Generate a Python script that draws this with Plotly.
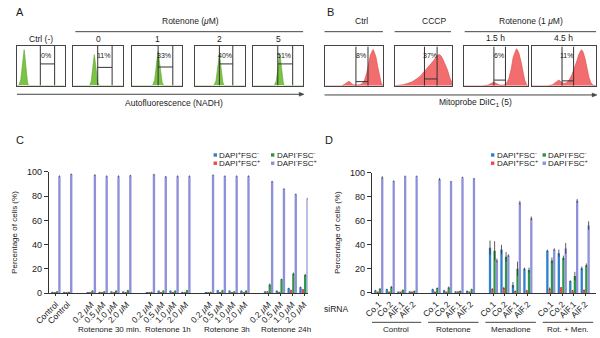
import plotly.graph_objects as go

W, H = 600, 338
def px(x): return x / W
def py(y): return 1 - y / H

FONT = "Liberation Sans, Arial, sans-serif"
TXT = "#1a1a1a"

# ---------------- Panel A data (relative x 0-100, height 0-100) ----------------
a_titles = ["Ctrl (-)", "0", "1", "2", "5"]
a_percent = ["0%", "11%", "33%", "40%", "51%"]
a_hist_x = [
    [0, 4, 8, 11, 13, 15, 16, 18, 20, 22, 24, 100],
    [0, 33, 36, 38, 40, 42, 43, 45, 47, 49, 52, 100],
    [0, 41, 45, 48, 50, 52, 53, 55, 57, 60, 63, 100],
    [0, 38, 42, 45, 47, 49, 50, 52, 54, 56, 59, 100],
    [0, 42, 46, 49, 51, 53, 54, 56, 58, 60, 62, 100],
]
a_hist_y = [
    [0, 0, 15, 50, 80, 93, 85, 55, 28, 10, 0, 0],
    [0, 0, 12, 35, 62, 80, 72, 45, 22, 8, 0, 0],
    [0, 0, 14, 40, 70, 88, 78, 50, 24, 8, 0, 0],
    [0, 0, 12, 38, 65, 80, 72, 45, 22, 8, 0, 0],
    [0, 0, 12, 38, 65, 82, 74, 46, 22, 8, 0, 0],
]
a_gate_left = [49, 49, 52, 49, 49]
a_gate_right = [79, 78, 81, 76, 79]
a_gate_level = [56, 47, 48, 56, 56]

# ---------------- Panel B data ----------------
b_titles = ["Ctrl", "CCCP", "1.5 h", "4.5 h"]
b_percent = ["8%", "37%", "6%", "11%"]
b_hist_x = [
    [0, 28, 33, 38, 41, 44, 48, 55, 60, 64, 68, 72, 75, 78, 81, 83, 85, 88, 91, 94, 97, 100],
    [0, 8, 15, 22, 30, 38, 45, 53, 58, 63, 68, 72, 75, 78, 81, 84, 88, 92, 96, 100],
    [0, 30, 38, 43, 47, 51, 56, 62, 66, 70, 74, 77, 80, 82, 84, 86, 89, 92, 95, 98, 100],
    [0, 25, 32, 37, 42, 46, 50, 54, 58, 62, 66, 70, 73, 76, 78, 80, 83, 86, 89, 92, 95, 100],
]
b_hist_y = [
    [0, 0, 4, 9, 12, 8, 3, 2, 3, 6, 15, 35, 60, 80, 90, 95, 88, 75, 50, 25, 8, 0],
    [0, 1, 3, 6, 10, 18, 26, 40, 48, 57, 66, 75, 80, 82, 78, 70, 58, 42, 22, 8],
    [0, 0, 2, 6, 10, 6, 2, 2, 5, 18, 45, 75, 92, 97, 93, 85, 65, 40, 15, 3, 0],
    [0, 0, 3, 9, 15, 10, 6, 8, 15, 28, 45, 65, 82, 92, 94, 88, 70, 45, 22, 8, 2, 0],
]
b_gate_left = [53, 52, 47, 47]
b_gate_right = [74, 74, 65, 65]
b_gate_level = [11, 18, 15, 13]

# ---------------- Panel C data ----------------
c_group_names = ["", "Rotenone 30 min.", "Rotenone 1h", "Rotenone 3h", "Rotenone 24h"]
c_group_labels = [["Control", "Control"]] + [["0.2 <i>μ</i>M", "0.5 <i>μ</i>M", "1.0 <i>μ</i>M", "2.0 <i>μ</i>M"]] * 4
c_blue = [1, 1, 0.5, 1, 1.5, 1.5, 0.5, 2, 2, 1, 0.5, 2.5, 2, 2, 1.5, 2, 4, 5]
c_red = [0.5, 0.5, 0.5, 0.5, 0.5, 0.5, 0.5, 0.5, 0.5, 1, 0.5, 0.5, 0.5, 1, 1.5, 1, 2.5, 3]
c_green = [1.5, 1, 2, 1.5, 2, 2.5, 1, 2, 2, 2.5, 1, 2.5, 1.5, 2, 7, 11.5, 16, 15]
c_purple = [96.5, 98, 97.5, 96.5, 96.5, 97, 97.8, 96, 96.5, 96.5, 97.3, 96.5, 96.5, 96.5, 92, 86, 81.5, 78]
c_blue_err = [0.2] * 14 + [0.3, 0.3, 0.5, 0.5]
c_red_err = [0.1] * 14 + [0.3, 0.3, 0.5, 0.5]
c_green_err = [0.3] * 14 + [1, 0.5, 1, 1]
c_purple_err = [0.6] * 18

# ---------------- Panel D data ----------------
d_group_names = ["Control", "Rotenone", "Menadione", "Rot. + Men."]
d_sample_labels = ["Co.1", "Co.2", "AIF.1", "AIF.2"]
d_blue = [2, 3, 0.5, 1, 3, 2, 1, 1.5, 37.5, 36, 6.5, 20, 35, 33, 10, 20.5]
d_red = [0.5, 0.3, 0.3, 0.3, 0.5, 0.5, 1, 0.5, 3, 4, 1.5, 2, 3.5, 4.5, 2, 2.5]
d_green = [3.5, 5, 2.5, 1.5, 4, 4.5, 1.5, 3, 35, 30, 20, 19, 27, 29, 14, 23]
d_purple = [96, 93, 97, 97, 94.5, 92.5, 96, 95, 27, 31, 75, 62, 36, 37, 76.5, 56]
d_blue_err = [0.5, 0.5, 0.2, 0.3, 0.5, 0.5, 0.3, 0.5, 6, 4, 2.5, 1, 1, 3, 0.5, 1.5]
d_red_err = [0.2] * 8 + [1, 1, 0.5, 0.5, 1, 0.5, 0.5, 0.5]
d_green_err = [0.5, 0.8, 0.5, 0.5, 0.5, 0.8, 0.5, 0.5, 8, 4, 6, 2, 2.5, 2, 3.5, 1.5]
d_purple_err = [1, 0.5, 0.5, 0.5, 1, 0.5, 0.5, 0.5, 1.5, 1, 1.5, 1.5, 1, 4.5, 1.5, 3.5]

series_names = ["DAPI<sup>+</sup>FSC<sup>-</sup>", "DAPI<sup>+</sup>FSC<sup>+</sup>",
                "DAPI<sup>-</sup>FSC<sup>-</sup>", "DAPI<sup>-</sup>FSC<sup>+</sup>"]
series_colors = ["#2f80cc", "#f04848", "#2e9642", "#8e90da"]

# ---------------- figure ----------------
fig = go.Figure()
layout = dict(
    width=W, height=H, margin=dict(l=0, r=0, t=0, b=0),
    paper_bgcolor="white", plot_bgcolor="white", showlegend=False,
    barmode="group", bargap=0.2, bargroupgap=0,
    font=dict(family=FONT, size=8, color=TXT),
)
shapes = []
annotations = []

def ann(text, x, y, size=8, xanchor="center", yanchor="middle", **kw):
    annotations.append(dict(text=text, x=px(x), y=py(y), xref="paper", yref="paper",
                            showarrow=False, xanchor=xanchor, yanchor=yanchor,
                            font=dict(size=size, family=FONT, color=TXT), **kw))

def pline(x0, y0, x1, y1, color="#444", width=1):
    shapes.append(dict(type="line", xref="paper", yref="paper", x0=px(x0), y0=py(y0),
                       x1=px(x1), y1=py(y1), line=dict(color=color, width=width)))

def hist_axis(idx, x0, x1, ytop, ybot):
    common = dict(showline=True, mirror=True, linecolor="#444", linewidth=1, showgrid=False,
                  zeroline=False, showticklabels=False, ticks="", fixedrange=True)
    layout[f"xaxis{idx}"] = dict(domain=[px(x0), px(x1)], range=[0, 100], anchor=f"y{idx}", **common)
    layout[f"yaxis{idx}"] = dict(domain=[py(ybot), py(ytop)], range=[0, 103], anchor=f"x{idx}", **common)

def gate(idx, gl, gr, gy):
    for (x0, y0, x1, y1) in [(gl, 0, gl, 103), (gr, 0, gr, 103), (gl, gy, gr, gy)]:
        shapes.append(dict(type="line", xref=f"x{idx}", yref=f"y{idx}", x0=x0, y0=y0, x1=x1, y1=y1,
                           line=dict(color="#333", width=1)))

# Panel A
a_boxes = [(2, 51), (60, 111), (120, 172), (185, 236), (245, 296)]
for i, (bx0, bx1) in enumerate(a_boxes):
    idx = 3 + i
    hist_axis(idx, bx0, bx1, 42, 83)
    fig.add_trace(go.Scatter(x=a_hist_x[i], y=a_hist_y[i], mode="lines", fill="tozeroy",
                             fillcolor="#7cc245", line=dict(color="#5aa52c", width=0.6),
                             xaxis=f"x{idx}", yaxis=f"y{idx}", hoverinfo="skip"))
    gate(idx, a_gate_left[i], a_gate_right[i], a_gate_level[i])
    gx = bx0 + (bx1 - bx0) * (a_gate_left[i] + a_gate_right[i]) / 200 - 1
    ann(a_percent[i], gx, 52.5, size=7)
    ann(a_titles[i], (bx0 + bx1) / 2, 35.5, size=8.5)
ann("A", 5, 7, size=11)
ann("Rotenone (<i>μ</i>M)", 180, 17, size=8.5)
pline(62, 27.5, 296, 27.5)
pline(2, 92, 293, 92)
shapes.append(dict(type="path", xref="paper", yref="paper",
                   path=f"M {px(292)} {py(90)} L {px(297)} {py(92)} L {px(292)} {py(94)} Z",
                   fillcolor="#444", line=dict(color="#444", width=0.5)))
ann("Autofluorescence (NADH)", 163, 100.5, size=8.5)

# Panel B
b_boxes = [(319, 378), (390, 449), (461, 527), (531, 597)]
for i, (bx0, bx1) in enumerate(b_boxes):
    idx = 8 + i
    hist_axis(idx, bx0, bx1, 42.7, 83.3)
    fig.add_trace(go.Scatter(x=b_hist_x[i], y=b_hist_y[i], mode="lines", fill="tozeroy",
                             fillcolor="#f26e6e", line=dict(color="#e04a4a", width=0.6),
                             xaxis=f"x{idx}", yaxis=f"y{idx}", hoverinfo="skip"))
    gate(idx, b_gate_left[i], b_gate_right[i], b_gate_level[i])
    gx = bx0 + (bx1 - bx0) * (b_gate_left[i] + b_gate_right[i]) / 200 - 1
    ann(b_percent[i], gx, 52.5, size=7)
ann("B", 324, 7, size=11)
ann(b_titles[0], 356, 17, size=8.5)
ann(b_titles[1], 430, 17, size=8.5)
ann("Rotenone (1 <i>μ</i>M)", 530, 17, size=8.5)
ann(b_titles[2], 494, 33.5, size=8.5)
ann(b_titles[3], 564, 33.5, size=8.5)
pline(318, 27.5, 378, 27.5)
pline(390, 27.5, 448, 27.5)
pline(462, 27.5, 597, 27.5)
pline(318, 92.7, 594, 92.7)
shapes.append(dict(type="path", xref="paper", yref="paper",
                   path=f"M {px(593)} {py(90.7)} L {px(598)} {py(92.7)} L {px(593)} {py(94.7)} Z",
                   fillcolor="#444", line=dict(color="#444", width=0.5)))
ann("Mitoprobe DiIC<sub>1</sub> (5)", 473, 100.5, size=8.5)

# ---------------- bar panels ----------------
def positions(groups):
    pos, cur, centers = [], 0, []
    for g in groups:
        p = list(range(cur, cur + len(g)))
        pos += p
        centers.append(sum(p) / len(p))
        cur += len(g) + 1
    return pos, centers

c_pos, c_centers = positions(c_group_labels)
c_ticktext = [t for g in c_group_labels for t in g]
d_pos, d_centers = positions([d_sample_labels] * 4)
d_ticktext = d_sample_labels * 4

c_series = [(c_blue, c_blue_err), (c_red, c_red_err), (c_green, c_green_err), (c_purple, c_purple_err)]
d_series = [(d_blue, d_blue_err), (d_red, d_red_err), (d_green, d_green_err), (d_purple, d_purple_err)]

for (vals, err), name, col in zip(c_series, series_names, series_colors):
    fig.add_trace(go.Bar(x=c_pos, y=vals, name=name, marker=dict(color=col, line=dict(width=0)),
                         error_y=dict(type="data", array=err, thickness=0.8, width=0, color="#333"),
                         xaxis="x", yaxis="y"))
for (vals, err), name, col in zip(d_series, series_names, series_colors):
    fig.add_trace(go.Bar(x=d_pos, y=vals, name=name, marker=dict(color=col, line=dict(width=0)),
                         error_y=dict(type="data", array=err, thickness=0.8, width=0, color="#333"),
                         xaxis="x2", yaxis="y2"))

yax = dict(range=[0, 100], tickvals=[0, 20, 40, 60, 80, 100], ticks="outside", ticklen=4,
           tickwidth=1, tickcolor="#333", showline=True, linecolor="#333", linewidth=1,
           showgrid=False, zeroline=False, tickfont=dict(size=9, family=FONT, color=TXT),
           title=dict(text="Percentage of cells (%)", font=dict(size=8, family=FONT, color=TXT), standoff=8))
xax = dict(ticks="outside", ticklen=2, tickwidth=1, tickcolor="#333", showline=True, linecolor="#333",
           linewidth=1, showgrid=False, zeroline=False, tickangle=-45,
           tickfont=dict(size=8.5, family=FONT, color=TXT))

layout["xaxis"] = dict(domain=[px(34.7), px(300.6)], range=[-0.6, 21.3], anchor="y",
                       tickvals=c_pos, ticktext=c_ticktext, **xax)
layout["yaxis"] = dict(domain=[py(297), py(172)], anchor="x", **yax)
layout["xaxis2"] = dict(domain=[px(366.7), px(597)], range=[-0.6, 18.95], anchor="y2",
                        tickvals=d_pos, ticktext=d_ticktext, **xax)
layout["yaxis2"] = dict(domain=[py(296.7), py(172.7)], anchor="x2", **yax)

# panel C/D labels
ann("C", 5, 139, size=11)
ann("D", 323, 139, size=11)
for name, cx in zip(c_group_names, c_centers):
    if name:
        annotations.append(dict(text=name, x=cx, y=py(334.5), xref="x", yref="paper", showarrow=False,
                                xanchor="center", yanchor="middle",
                                font=dict(size=8, family=FONT, color=TXT)))
for name, cx in zip(d_group_names, d_centers):
    annotations.append(dict(text=name, x=cx, y=py(334.5), xref="x2", yref="paper", showarrow=False,
                            xanchor="center", yanchor="middle",
                            font=dict(size=8, family=FONT, color=TXT)))
    shapes.append(dict(type="line", xref="x2", yref="paper", x0=cx - 2.2, x1=cx + 2.2,
                       y0=py(327), y1=py(327), line=dict(color="#444", width=1)))
ann("siRNA", 330, 313, size=8.5)

# legends
def legend(x_left, x_right, y1, y2):
    spots = [(x_left, y1), (x_left, y2), (x_right, y1), (x_right, y2)]
    for (sx, sy), name, col in zip(spots, series_names, series_colors):
        shapes.append(dict(type="rect", xref="paper", yref="paper", x0=px(sx), x1=px(sx + 3.5),
                           y0=py(sy + 1.8), y1=py(sy - 1.7), fillcolor=col, line=dict(width=0)))
        ann(name, sx + 4, sy, size=8, xanchor="left")

legend(204, 263, 154.5, 163)
legend(489, 542, 154.5, 163)

layout["shapes"] = shapes
layout["annotations"] = annotations
fig.update_layout(**layout)
fig.write_html("out.html", config={"displayModeBar": False},
               post_script="document.body.style.margin='0';document.body.style.overflow='hidden';")
